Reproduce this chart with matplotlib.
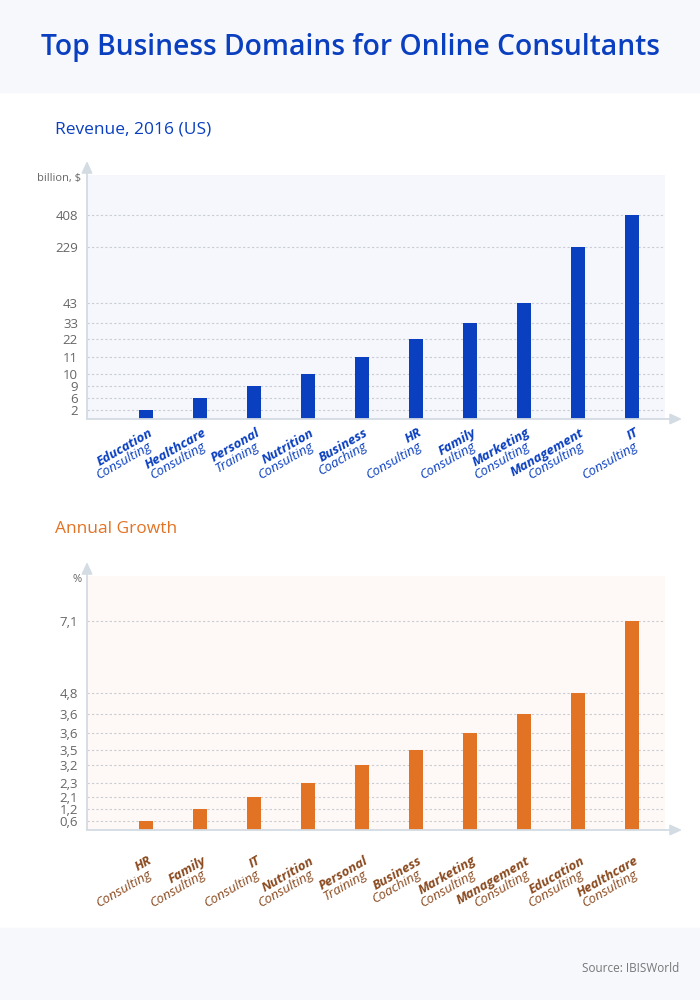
import numpy as np
import matplotlib
matplotlib.use("Agg")
import matplotlib.pyplot as plt
from matplotlib.patches import Rectangle

# ---------------- data ----------------
rev_cat_main = ["Education", "Healthcare", "Personal", "Nutrition", "Business",
                "HR", "Family", "Marketing", "Management", "IT"]
rev_cat_sub = ["Consulting", "Consulting", "Training", "Consulting", "Coaching",
               "Consulting", "Consulting", "Consulting", "Consulting", "Consulting"]
rev_values = [2, 6, 9, 10, 11, 22, 33, 43, 229, 408]
rev_tick_labels = ["2", "6", "9", "10", "11", "22", "33", "43", "229", "408"]

growth_cat_main = ["HR", "Family", "IT", "Nutrition", "Personal", "Business",
                   "Marketing", "Management", "Education", "Healthcare"]
growth_cat_sub = ["Consulting", "Consulting", "Consulting", "Consulting", "Training",
                  "Coaching", "Consulting", "Consulting", "Consulting", "Consulting"]
growth_values = [0.6, 1.2, 2.1, 2.3, 3.2, 3.5, 3.56, 3.64, 4.8, 7.1]
growth_tick_labels = ["0,6", "1,2", "2,1", "2,3", "3,2", "3,5", "3,6", "3,6", "4,8", "7,1"]

# non-linear (designer) axis scales: value knots -> display level knots
rev_scale_value = [0, 2, 6, 9, 10, 11, 22, 33, 43, 229, 408, 540]
rev_scale_level = [0, 9, 21, 33, 45, 62, 80, 96, 116, 172, 204, 244]
growth_scale_value = [0, 0.6, 1.2, 2.1, 2.3, 3.2, 3.5, 3.56, 3.64, 4.8, 7.1, 8.5]
growth_scale_level = [0, 9, 21, 33, 47, 65, 80, 97, 116, 137, 209, 254]

# ---------------- style ----------------
BLUE = "#0a3fbf"
ORANGE = "#e27325"
BROWN = "#8a4a1f"
AXIS_C = "#d3dbe3"
GRID_C = "#c9cdd3"
TICK_C = "#666666"
FONT = ["Open Sans", "DejaVu Sans"]
W, H = 700, 1000

fig = plt.figure(figsize=(7, 10), dpi=100)
fig.patch.set_facecolor("white")


def fx(px):
    return px / W


def fy(py):
    return 1 - py / H


# header / footer bands
fig.add_artist(Rectangle((0, fy(92)), 1, 92 / H, transform=fig.transFigure,
                         color="#f6f8fc", zorder=0))
fig.add_artist(Rectangle((0, 0), 1, (H - 928) / H, transform=fig.transFigure,
                         color="#f6f8fc", zorder=0))

fig.text(0.5, fy(48), "Top Business Domains for Online Consultants", ha="center",
         va="center", fontsize=20.3, color=BLUE, family=FONT, fontweight="semibold")
fig.text(fx(55), fy(129), "Revenue, 2016 (US)", ha="left", va="center",
         fontsize=12.5, color=BLUE, family=FONT)
fig.text(fx(55), fy(529), "Annual Growth", ha="left", va="center",
         fontsize=12.5, color=ORANGE, family=FONT)
fig.text(fx(679), fy(968), "Source: IBISWorld", ha="right", va="center",
         fontsize=8.5, color="#777777", family=FONT)


def make_scale(vals, levels):
    v = np.asarray(vals, float)
    l = np.asarray(levels, float)

    def fwd(x):
        return np.interp(x, v, l)

    def inv(y):
        return np.interp(y, l, v)
    return fwd, inv


def draw_panel(rect_px, values, tick_labels, cat_main, cat_sub, scale_v, scale_l,
               bar_color, bg, label_color, unit, label_drop):
    left, top, right, bottom = rect_px
    ax = fig.add_axes([fx(left), fy(bottom), (right - left) / W, (bottom - top) / H])
    ax.set_facecolor(bg)
    ax.set_yscale("function", functions=make_scale(scale_v, scale_l))
    ax.set_ylim(0, scale_v[-1])
    n = len(values)
    x = np.arange(n)
    ax.set_xlim(-1.093, n - 1 + 0.611)
    ax.bar(x, values, width=0.25, color=bar_color, zorder=3)
    ax.set_yticks(values)
    ax.set_yticklabels(tick_labels)
    ax.yaxis.grid(True, linestyle=(0, (2, 2)), color=GRID_C, lw=0.8, zorder=1)
    ax.set_axisbelow(True)
    ax.set_xticks([])
    ax.tick_params(axis="y", length=0, pad=6.5, labelsize=9.5, labelcolor=TICK_C)
    for lab in ax.get_yticklabels():
        lab.set_family(FONT)
    for s in ax.spines.values():
        s.set_visible(False)
    axh = bottom - top
    axw = right - left
    arrow = dict(arrowstyle="-|>,head_length=0.7,head_width=0.32", color=AXIS_C,
                 lw=1.3, shrinkA=0, shrinkB=0)
    ax.annotate("", xy=(0, 1 + 14 / axh), xytext=(0, 0), xycoords="axes fraction",
                arrowprops=arrow, annotation_clip=False)
    ax.annotate("", xy=(1 + 17 / axw, 0), xytext=(0, 0), xycoords="axes fraction",
                arrowprops=arrow, annotation_clip=False)
    ax.text(-0.01, 1 - 3 / axh, unit, transform=ax.transAxes, ha="right",
            va="center", fontsize=8, color=TICK_C, family=FONT)
    for i in range(n):
        ax.annotate(cat_main[i], xy=(x[i], 0), xycoords=("data", "axes fraction"),
                    xytext=(1.5, -label_drop * 0.72), textcoords="offset points",
                    rotation=30, rotation_mode="anchor", ha="right", va="top",
                    fontsize=9.5, fontweight="bold", fontstyle="italic",
                    color=label_color, family=FONT, annotation_clip=False)
        ax.annotate(cat_sub[i], xy=(x[i], 0), xycoords=("data", "axes fraction"),
                    xytext=(0.5, -(label_drop + 14) * 0.72), textcoords="offset points",
                    rotation=30, rotation_mode="anchor", ha="right", va="top",
                    fontsize=9.5, fontstyle="italic",
                    color=label_color, family=FONT, annotation_clip=False)
    return ax


draw_panel((87, 175, 665, 419), rev_values, rev_tick_labels, rev_cat_main, rev_cat_sub,
           rev_scale_value, rev_scale_level, BLUE, "#f5f7fc", BLUE, "billion, $", 7)
draw_panel((87, 576, 665, 830), growth_values, growth_tick_labels, growth_cat_main,
           growth_cat_sub, growth_scale_value, growth_scale_level, ORANGE, "#fef9f6",
           BROWN, "%", 24)

fig.savefig("out.png", dpi=100)
